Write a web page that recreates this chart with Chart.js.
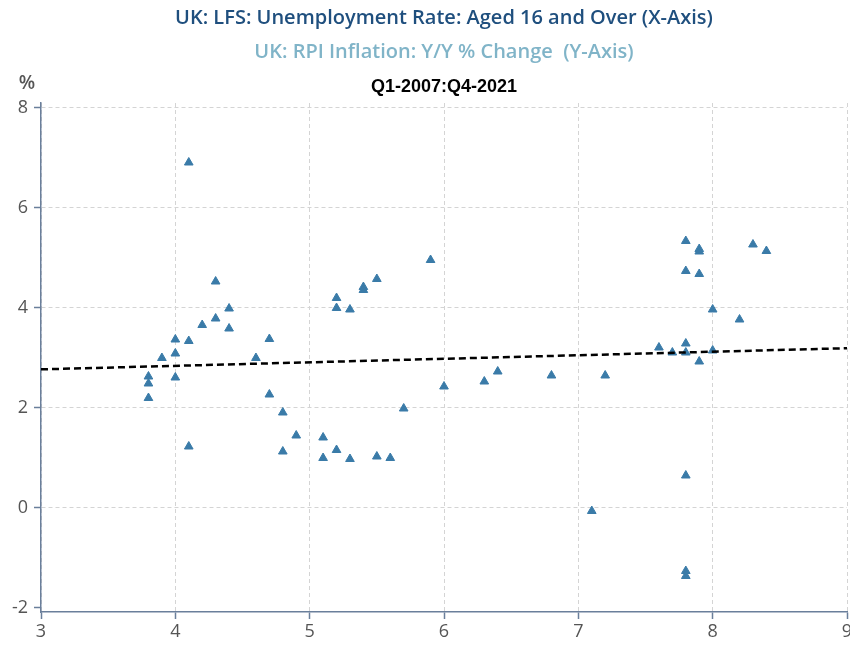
<!DOCTYPE html>
<html lang="en">
<head>
  <meta charset="UTF-8">
  <title>UK unemployment vs RPI inflation</title>
  <script src="https://cdn.jsdelivr.net/npm/chart.js"></script>
  <style>
    body { margin: 0; background: #fff; overflow: hidden; }
    .wrap { width: 850px; height: 646px; overflow: hidden; }
  </style>
</head>
<body>
<div class="wrap"><canvas id="scatter" width="856" height="646"></canvas></div>
<script>
// unemployment rate (x) and RPI inflation (y), one pair per quarter
const unemployment = [
  4.1, 4.3, 4.4, 4.3, 4.2, 4.4, 4.0, 4.1, 4.7, 3.9, 4.0, 4.6, 3.8, 3.8, 4.0, 3.8, 4.7, 4.8, 4.9, 4.1, 4.8,
  5.9, 5.5, 5.4, 5.4, 5.2, 5.2, 5.3, 6.0, 6.3, 6.4, 6.8, 7.2, 5.7, 5.1, 5.1, 5.2, 5.3, 5.5, 5.6,
  7.8, 7.9, 7.9, 8.3, 8.4, 7.8, 7.9, 8.0, 8.2, 7.6, 7.7, 7.8, 7.8, 7.9, 8.0, 7.8, 7.1, 7.8, 7.8
];
const rpiInflation = [
  6.9, 4.52, 3.98, 3.78, 3.65, 3.58, 3.36, 3.33, 3.37, 2.99, 3.08, 2.99, 2.62, 2.48, 2.6, 2.19, 2.26, 1.9, 1.44, 1.22, 1.12,
  4.95, 4.57, 4.41, 4.35, 4.19, 3.99, 3.96, 2.42, 2.52, 2.72, 2.64, 2.64, 1.98, 1.4, 0.99, 1.15, 0.97, 1.02, 0.99,
  5.33, 5.12, 5.17, 5.26, 5.13, 4.73, 4.67, 3.96, 3.76, 3.2, 3.1, 3.28, 3.1, 2.92, 3.14, 0.64, -0.07, -1.27, -1.37
];
const xTicks = [3, 4, 5, 6, 7, 8, 9];
const yTicks = [-2, 0, 2, 4, 6, 8];

const titleLines = [
  'UK: LFS: Unemployment Rate: Aged 16 and Over (X-Axis)',
  'UK: RPI Inflation: Y/Y % Change  (Y-Axis)',
  'Q1-2007:Q4-2021'
];

const points = unemployment.map((x, i) => ({ x, y: rpiInflation[i] }));

// least squares line through the points
function trend(xs, ys) {
  const n = xs.length;
  const mx = xs.reduce((a, b) => a + b, 0) / n;
  const my = ys.reduce((a, b) => a + b, 0) / n;
  let sxy = 0, sxx = 0;
  xs.forEach((x, i) => { sxy += (x - mx) * (ys[i] - my); sxx += (x - mx) * (x - mx); });
  const b = sxy / sxx;
  const a = my - b * mx;
  const x0 = xTicks[0], x1 = xTicks[xTicks.length - 1];
  return [{ x: x0, y: a + b * x0 }, { x: x1, y: a + b * x1 }];
}

const axisColor = '#6a7f9b';
const gridColor = '#d4d4d4';
const tickFont = { family: 'Open Sans', size: 18 };

const headings = {
  id: 'headings',
  afterDraw(chart) {
    const ctx = chart.ctx;
    const cx = (chart.chartArea.left + chart.chartArea.right) / 2;
    ctx.save();
    ctx.textAlign = 'center';
    ctx.textBaseline = 'middle';
    ctx.font = '600 20px "Open Sans"';
    ctx.fillStyle = '#1f4f7e';
    ctx.fillText(titleLines[0], cx, 18);
    ctx.fillStyle = '#80b4c8';
    ctx.fillText(titleLines[1], cx, 52);
    ctx.font = 'bold 18px "Liberation Sans"';
    ctx.fillStyle = '#000';
    ctx.fillText(titleLines[2], cx, 87);
    ctx.font = '600 19px "Open Sans"';
    ctx.fillStyle = '#555';
    ctx.fillText('%', 27, 84);
    ctx.restore();
  }
};

new Chart(document.getElementById('scatter'), {
  type: 'scatter',
  data: {
    datasets: [
      {
        data: points,
        pointStyle: 'triangle',
        pointRadius: 5,
        backgroundColor: '#3a7ba8',
        borderColor: '#3a7ba8',
        borderWidth: 1,
        order: 2
      },
      {
        type: 'line',
        data: trend(unemployment, rpiInflation),
        borderColor: '#000',
        borderWidth: 2.5,
        borderDash: [7, 4],
        pointRadius: 0,
        fill: false,
        order: 1
      }
    ]
  },
  options: {
    responsive: false,
    animation: false,
    layout: { padding: { top: 103, right: 9, left: 0, bottom: 0 } },
    plugins: { legend: { display: false }, tooltip: { enabled: false } },
    scales: {
      x: {
        type: 'linear',
        min: 3,
        max: 9,
        afterBuildTicks: s => { s.ticks = xTicks.map(v => ({ value: v })); },
        afterFit: s => { s.height = 34; },
        ticks: { color: '#555', font: tickFont, padding: 2 },
        grid: { color: gridColor, tickColor: axisColor, tickLength: 7, tickWidth: 1.5 },
        border: { color: axisColor, width: 1.5, dash: [4, 3] }
      },
      y: {
        type: 'linear',
        min: -2.09,
        max: 8.09,
        afterBuildTicks: s => { s.ticks = yTicks.map(v => ({ value: v })); },
        afterFit: s => { s.width = 41; },
        ticks: { color: '#555', font: tickFont, padding: 6 },
        grid: {
          color: c => (c.tick && c.tick.value === yTicks[0] ? 'rgba(0,0,0,0)' : gridColor),
          tickColor: axisColor,
          tickLength: 7,
          tickWidth: 1.5
        },
        border: { color: axisColor, width: 1.5, dash: [4, 3] }
      }
    }
  },
  plugins: [headings]
});
</script>
</body>
</html>
